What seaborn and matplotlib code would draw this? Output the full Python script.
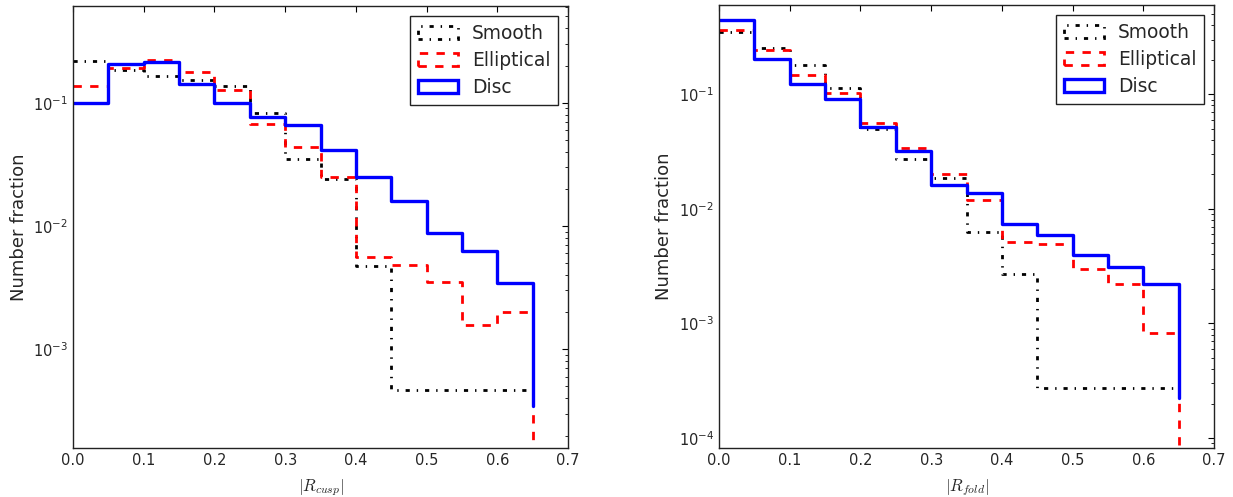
import numpy as np
import matplotlib
matplotlib.use("Agg")
import matplotlib.pyplot as plt
from matplotlib.patches import Patch
import seaborn as sns

# ---- data (number fraction per bin) ----
bin_edges = [0.0, 0.05, 0.10, 0.15, 0.20, 0.25, 0.30, 0.35, 0.40, 0.45, 0.50, 0.55, 0.60, 0.65]
series_names = ["Smooth", "Elliptical", "Disc"]

cusp_smooth = [0.219, 0.185, 0.166, 0.152, 0.136, 0.0825, 0.0347, 0.0240, 0.00474,
               0.000468, 0.000468, 0.000468, 0.000468]
cusp_elliptical = [0.136, 0.190, 0.223, 0.177, 0.127, 0.0676, 0.0438, 0.0251, 0.00564,
                   0.00483, 0.00353, 0.00157, 0.00200]
cusp_disc = [0.100, 0.205, 0.213, 0.142, 0.100, 0.0762, 0.0663, 0.0416, 0.0251,
             0.0160, 0.00883, 0.00627, 0.00347]

fold_smooth = [0.348, 0.252, 0.179, 0.114, 0.0496, 0.0273, 0.0185, 0.00622, 0.00272,
               0.000273, 0.000273, 0.000273, 0.000273]
fold_elliptical = [0.364, 0.243, 0.147, 0.102, 0.0565, 0.0341, 0.0202, 0.0120, 0.00513,
                   0.00489, 0.00298, 0.00220, 0.000824]
fold_disc = [0.442, 0.204, 0.123, 0.0916, 0.0523, 0.0321, 0.0161, 0.0137, 0.00740,
             0.00593, 0.00395, 0.00310, 0.00222]

x_labels = [r"$|R_{cusp}|$", r"$|R_{fold}|$"]
y_label = "Number fraction"
x_ticks = [0.0, 0.1, 0.2, 0.3, 0.4, 0.5, 0.6, 0.7]

# ---- style ----
sns.set_style("white")
plt.rcParams["font.family"] = ["DejaVu Sans"]
plt.rcParams["mathtext.fontset"] = "cm"
plt.rcParams["axes.unicode_minus"] = False
plt.rcParams["lines.scale_dashes"] = False

colors = ["black", "#ff0000", "#0000ff"]
styles = [(0, (3, 5, 1, 5)), (0, (6, 6)), "-"]
widths = [2.0, 2.0, 2.4]
drop_at_end = [False, True, True]

fig = plt.figure(figsize=(12.33, 4.97), dpi=100)
ax1 = fig.add_axes([73 / 1233, 1 - 448 / 497, 495 / 1233, 442 / 497])
ax2 = fig.add_axes([719 / 1233, 1 - 448 / 497, 495 / 1233, 443 / 497])

panels = [
    (ax1, [cusp_smooth, cusp_elliptical, cusp_disc], (10 ** -3.80, 10 ** -0.216), x_labels[0]),
    (ax2, [fold_smooth, fold_elliptical, fold_disc], (10 ** -4.087, 10 ** -0.221), x_labels[1]),
]

edges = np.asarray(bin_edges)
for ax, data, ylim, xl in panels:
    for vals, name, c, ls, lw, drop in zip(data, series_names, colors, styles, widths, drop_at_end):
        v = np.asarray(vals)
        # step outline: top of each bin, optionally closing down at the last edge
        xs = np.repeat(edges, 2)[1:]
        ys = np.repeat(v, 2)
        if drop:
            ys = np.r_[ys, v.min() / 10.0]
        else:
            xs = xs[:-1]
        sns.lineplot(x=xs, y=ys, sort=False, estimator=None, color=c,
                     linestyle=ls, linewidth=lw, ax=ax)
    ax.set_yscale("log")
    ax.set_xlim(0, 0.7)
    ax.set_ylim(*ylim)
    ax.set_xticks(x_ticks)
    ax.set_xticklabels([f"{t:.1f}" for t in x_ticks])
    ax.set_xlabel(xl, fontsize=12, labelpad=7)
    ax.set_ylabel(y_label, fontsize=13)
    ax.tick_params(which="both", direction="in", top=True, right=True,
                   labelsize=10.5, color="black")
    ax.tick_params(which="major", length=4.5, width=0.8)
    ax.tick_params(which="minor", length=2.2, width=0.6)
    for sp in ax.spines.values():
        sp.set_color("#222222")
        sp.set_linewidth(1.0)
    handles = [Patch(facecolor="none", edgecolor=c, linestyle=ls, linewidth=lw, label=n)
               for n, c, ls, lw in zip(series_names, colors, styles, widths)]
    leg = ax.legend(handles=handles, loc="upper right", fontsize=13.4, frameon=True,
                    fancybox=False, edgecolor="#222222", framealpha=1,
                    handlelength=2.15, handleheight=0.7, handletextpad=0.75,
                    borderpad=0.4, labelspacing=0.45, borderaxespad=0.55)
    leg.get_frame().set_linewidth(1.0)

fig.savefig("out.png", dpi=100, facecolor="white")
